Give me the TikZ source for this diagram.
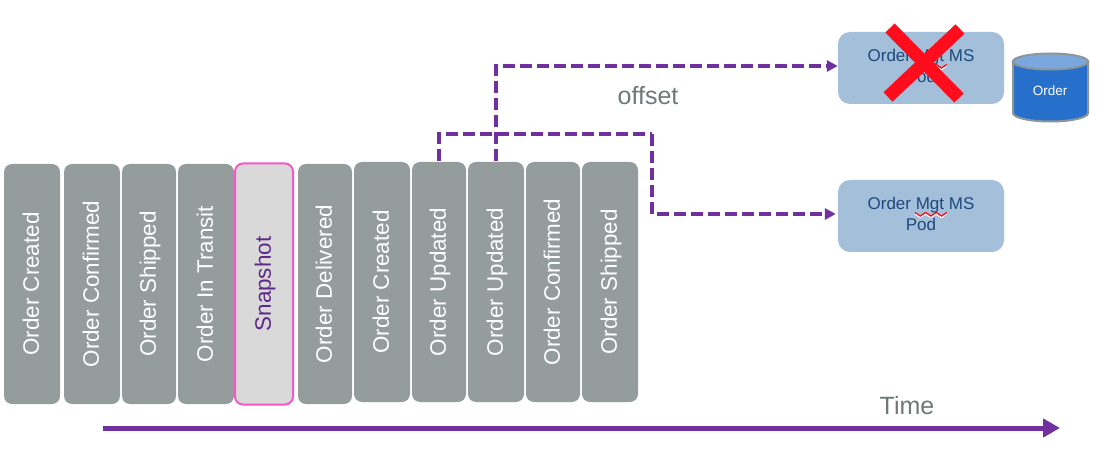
\documentclass[tikz,border=0pt]{standalone}
\usepackage{fontspec}
\setmainfont{Liberation Sans}
\usetikzlibrary{calc,arrows.meta}
\definecolor{evgray}{HTML}{949C9C}
\definecolor{plum}{HTML}{7030A0}
\definecolor{podblue}{HTML}{A3BFD9}
\definecolor{podtext}{HTML}{1F497D}
\definecolor{pinkline}{HTML}{F757C9}
\definecolor{snapfill}{HTML}{D9D9D9}
\definecolor{captiongray}{HTML}{6F7878}
\definecolor{crossred}{HTML}{FF0D1D}
\definecolor{dbblue}{HTML}{2670CC}
\definecolor{dbtop}{HTML}{7BA7DF}
\definecolor{dbedge}{HTML}{8C9696}
\newcommand{\podlabel}{\raisebox{2pt}{\begin{tabular}{@{}c@{}}Order Mgt MS\\Pod\end{tabular}}}
\tikzset{
  x=1pt,y=-1pt,
  evt/.style={rotate=90,draw=none,fill=evgray,rounded corners=8pt,minimum width=240pt,inner sep=0pt,outer sep=1pt,text=white,text height=16pt,text depth=2.4pt,font=\fontsize{22.4}{24}\selectfont},
  snap/.style={evt,fill=snapfill,draw=pinkline,line width=2pt,text=plum!85!black},
  pod/.style={fill=podblue,rounded corners=12pt,minimum width=166pt,minimum height=72pt,inner sep=0pt,text=podtext,align=center,font=\fontsize{17}{21}\selectfont},
  flow/.style={draw=plum,line width=3.6pt,dash pattern=on 12pt off 5pt,-{Triangle[length=11pt,width=11pt,fill=plum]}},
  flowb/.style={draw=plum,line width=3.6pt,dash pattern=on 12pt off 5pt},
  caption/.style={text=captiongray,font=\fontsize{25}{28}\selectfont,inner sep=0pt},
  squiggle/.style={draw=crossred,line width=1.3pt},
  redx/.style={draw=crossred,line width=13pt},
}
\begin{document}
\begin{tikzpicture}
\useasboundingbox (0,0) rectangle (1110,454);
\node[evt,minimum height=56pt] (b1) at (32,284) {Order Created};
\node[evt,minimum height=56pt] (b2) at (92,284) {Order Confirmed};
\node[evt,minimum height=54pt] (b3) at (149,284) {Order Shipped};
\node[evt,minimum height=56pt] (b4) at (206,284) {Order In Transit};
\node[snap,minimum height=58pt,minimum width=241pt] (b5) at (264,284) {Snapshot};
\node[evt,minimum height=54pt] (b6) at (325,284) {Order Delivered};
\node[evt,minimum height=56pt] (b7) at (382,282) {Order Created};
\node[evt,minimum height=54pt] (b8) at (439,282) {Order Updated};
\node[evt,minimum height=56pt] (b9) at (496,282) {Order Updated};
\node[evt,minimum height=54pt] (b10) at (553,282) {Order Confirmed};
\node[evt,minimum height=56pt] (b11) at (610,282) {Order Shipped};

\node[pod] (p1) at (921,68) {\podlabel};
\node[pod] (p2) at (921,216) {\podlabel};

\foreach \n in {p1,p2}{
  \draw[white,line width=1.3pt] ($(\n.center)+(-6,-2)$) -- ++(5.3,3.5) -- ++(5.3,-3.5) -- ++(5.3,3.5) -- ++(5.3,-3.5) -- ++(5.3,3.5) -- ++(5.3,-3.5);
  \draw[squiggle] ($(\n.center)+(-6,-3.5)$) -- ++(5.3,3.5) -- ++(5.3,-3.5) -- ++(5.3,3.5) -- ++(5.3,-3.5) -- ++(5.3,3.5) -- ++(5.3,-3.5);
}

\coordinate (p1in) at ($(p1.west)+(0,-2)$);
\coordinate (p2in) at ($(p2.west)+(-2,-2)$);
\coordinate (up) at (652,134);
\draw[flow] (b9.east) |- (p1in);
\draw[flowb] (b8.east) |- (up);
\draw[flow] (up) |- (p2in);

\node[caption] (off) at (648,96) {offset};

\coordinate (xa) at (890,28);
\coordinate (xb) at (959,98);
\coordinate (xc) at (960,29);
\coordinate (xd) at (888,97);
\draw[redx] (xa) -- (xb);
\draw[redx] (xc) -- (xd);

% database
\draw[fill=dbblue,draw=dbedge,line width=2pt] (1013,61.5) -- (1013,113) arc[start angle=180,end angle=360,x radius=37.5pt,y radius=8.5pt] -- (1088,61.5) -- cycle;
\draw[fill=dbtop,draw=dbedge,line width=2pt] (1050.5,61.5) ellipse[x radius=37.5pt,y radius=8pt];
\node[text=white,font=\fontsize{13.5}{16}\selectfont,inner sep=0pt] (db) at (1050,91) {Order};

\node[caption] (tm) at (907,406) {Time};
\coordinate (t0) at (103,428);
\coordinate (t1) at (1060,428);
\draw[plum,line width=5pt,-{Triangle[length=17pt,width=18pt]}] (t0) -- (t1);
\end{tikzpicture}
\end{document}
